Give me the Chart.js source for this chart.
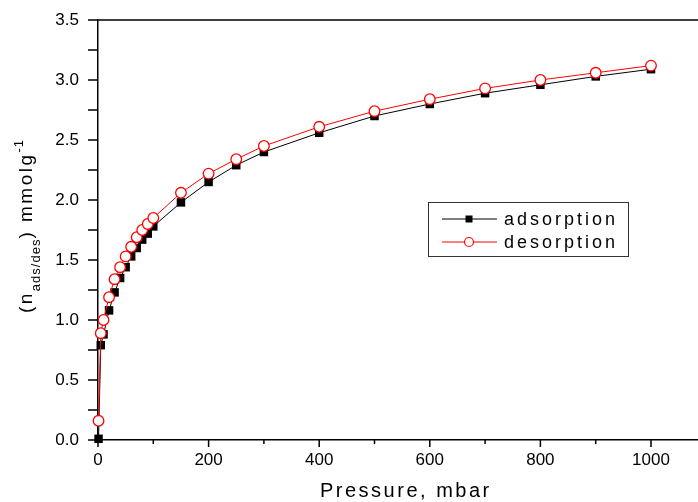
<!DOCTYPE html>
<html>
<head>
<meta charset="utf-8">
<script src="https://cdn.jsdelivr.net/npm/chart.js@4.4.1/dist/chart.umd.min.js"></script>
<style>
  html, body { margin: 0; padding: 0; background: #fff; }
  canvas { display: block; }
</style>
</head>
<body>
<canvas id="isoChart" width="698" height="502"></canvas>
<script>
// isotherm readings (pressure in mbar, uptake in mmol/g)
const pressure   = [1, 5, 10, 20, 30, 40, 50, 60, 70, 80, 90, 100, 150, 200, 250, 300, 400, 500, 600, 700, 800, 900, 1000];
const adsorption = [0.01, 0.79, 0.88, 1.08, 1.23, 1.35, 1.44, 1.53, 1.60, 1.67, 1.72, 1.78, 1.98, 2.15, 2.29, 2.40, 2.56, 2.70, 2.80, 2.89, 2.96, 3.03, 3.09];
const desorption = [0.16, 0.89, 1.00, 1.19, 1.34, 1.44, 1.53, 1.61, 1.69, 1.75, 1.80, 1.85, 2.06, 2.22, 2.34, 2.45, 2.61, 2.74, 2.84, 2.93, 3.00, 3.06, 3.12];
const seriesNames = ['adsorption', 'desorption'];
const xTickValues = [0, 100, 200, 300, 400, 500, 600, 700, 800, 900, 1000];
const yTickValues = [0, 0.25, 0.5, 0.75, 1, 1.25, 1.5, 1.75, 2, 2.25, 2.5, 2.75, 3, 3.25, 3.5];
const xLimits = [0, 1085];
const yLimits = [0, 3.5];

const FONT = '"Liberation Sans", Arial, sans-serif';

function toPoints(vals) {
    return pressure.map((p, i) => ({ x: p, y: vals[i] }));
}

// outward ticks (major + minor) and the top frame line
const frameTicks = {
    id: 'frameTicks',
    afterDraw(chart) {
        const { ctx, chartArea, scales } = chart;
        ctx.save();
        ctx.strokeStyle = '#000';
        ctx.lineWidth = 1.5;
        ctx.beginPath();
        scales.x.ticks.forEach(t => {
            const px = scales.x.getPixelForValue(t.value);
            const len = t.value % 200 === 0 ? 7 : 4;
            ctx.moveTo(px, chartArea.bottom);
            ctx.lineTo(px, chartArea.bottom + len);
        });
        scales.y.ticks.forEach(t => {
            const py = scales.y.getPixelForValue(t.value);
            ctx.moveTo(chartArea.left, py);
            ctx.lineTo(chartArea.left - 10, py);
        });
        ctx.moveTo(chartArea.left, chartArea.top);
        ctx.lineTo(chartArea.right, chartArea.top);
        ctx.stroke();
        ctx.restore();
    }
};

// axis titles - y one needs sub/superscript so draw it by hand
const axisTitles = {
    id: 'axisTitles',
    afterDraw(chart) {
        const { ctx } = chart;
        ctx.save();
        ctx.fillStyle = '#000';
        ctx.textBaseline = 'alphabetic';
        ctx.textAlign = 'left';

        // x title
        ctx.font = '20px ' + FONT;
        ctx.letterSpacing = '2.5px';
        ctx.fillText('Pressure, mbar', 320, 497);

        // y title
        const parts = [
            { text: '(n', size: 19, shift: 0, sp: 2.5 },
            { text: 'ads/des', size: 13, shift: 8, sp: 1 },
            { text: ') mmolg', size: 19, shift: 0, sp: 2.5 },
            { text: '-1', size: 13, shift: -9, sp: 1 }
        ];
        let total = 0;
        parts.forEach(p => {
            ctx.font = p.size + 'px ' + FONT;
            ctx.letterSpacing = p.sp + 'px';
            p.w = ctx.measureText(p.text).width;
            total += p.w;
        });
        ctx.translate(32, 226);
        ctx.rotate(-Math.PI / 2);
        let x = -total / 2;
        parts.forEach(p => {
            ctx.font = p.size + 'px ' + FONT;
            ctx.letterSpacing = p.sp + 'px';
            ctx.fillText(p.text, x, p.shift);
            x += p.w;
        });
        ctx.restore();
    }
};

// boxed legend sitting inside the plot
const boxLegend = {
    id: 'boxLegend',
    afterDraw(chart) {
        const ctx = chart.ctx;
        ctx.save();
        ctx.strokeStyle = '#333';
        ctx.lineWidth = 1;
        ctx.strokeRect(428.5, 202.5, 200, 54);

        chart.data.datasets.forEach((ds, i) => {
            const cy = 219 + i * 23;
            ctx.strokeStyle = ds.borderColor;
            ctx.lineWidth = 1;
            ctx.beginPath();
            ctx.moveTo(442, cy);
            ctx.lineTo(497, cy);
            ctx.stroke();

            if (ds.pointStyle === 'rect') {
                ctx.fillStyle = ds.pointBackgroundColor;
                ctx.fillRect(465.5, cy - 3.5, 7, 7);
            } else {
                ctx.fillStyle = ds.pointBackgroundColor;
                ctx.strokeStyle = ds.pointBorderColor;
                ctx.lineWidth = 1.2;
                ctx.beginPath();
                ctx.arc(469, cy, 4.5, 0, Math.PI * 2);
                ctx.fill();
                ctx.stroke();
            }

            ctx.fillStyle = '#000';
            ctx.font = '18px ' + FONT;
            ctx.letterSpacing = '3px';
            ctx.textBaseline = 'middle';
            ctx.fillText(ds.label, 504, cy + 1);
            ctx.letterSpacing = '0px';
        });
        ctx.restore();
    }
};

const ctx = document.getElementById('isoChart').getContext('2d');

new Chart(ctx, {
    type: 'scatter',
    data: {
        datasets: [
            {
                label: seriesNames[0],
                data: toPoints(adsorption),
                showLine: true,
                borderColor: '#000',
                borderWidth: 1,
                pointStyle: 'rect',
                pointRadius: 6,
                pointBackgroundColor: '#000',
                pointBorderColor: '#000',
                pointBorderWidth: 0,
                clip: false,
                order: 2
            },
            {
                label: seriesNames[1],
                data: toPoints(desorption),
                showLine: true,
                borderColor: '#ff0000',
                borderWidth: 1,
                pointStyle: 'circle',
                pointRadius: 5.3,
                pointBackgroundColor: '#fff',
                pointBorderColor: '#ff0000',
                pointBorderWidth: 1.3,
                clip: false,
                order: 1
            }
        ]
    },
    options: {
        responsive: false,
        animation: false,
        layout: { autoPadding: false, padding: { top: 20, right: 0, bottom: 0, left: 0 } },
        plugins: {
            legend: { display: false },
            tooltip: { enabled: false }
        },
        scales: {
            x: {
                type: 'linear',
                min: xLimits[0],
                max: xLimits[1],
                afterBuildTicks: s => { s.ticks = xTickValues.map(v => ({ value: v })); },
                ticks: {
                    color: '#000',
                    font: { family: FONT, size: 17 },
                    padding: 10,
                    maxRotation: 0,
                    autoSkip: false,
                    callback: v => (v % 200 === 0 ? String(v) : '')
                },
                grid: { drawOnChartArea: false, drawTicks: false },
                border: { display: true, color: '#000', width: 1.5 },
                afterFit: s => {
                    s.height = 62;
                    s.paddingLeft = 0;
                    s.paddingRight = 0;
                }
            },
            y: {
                min: yLimits[0],
                max: yLimits[1],
                afterBuildTicks: s => { s.ticks = yTickValues.map(v => ({ value: v })); },
                ticks: {
                    color: '#000',
                    font: { family: FONT, size: 17 },
                    padding: 19,
                    autoSkip: false,
                    callback: v => (Math.abs(v * 2 - Math.round(v * 2)) < 1e-9 ? v.toFixed(1) : '')
                },
                grid: { drawOnChartArea: false, drawTicks: false },
                border: { display: true, color: '#000', width: 1.5 },
                afterFit: s => {
                    s.width = 98;
                    s.paddingTop = 0;
                    s.paddingBottom = 0;
                }
            }
        }
    },
    plugins: [frameTicks, axisTitles, boxLegend]
});
</script>
</body>
</html>
